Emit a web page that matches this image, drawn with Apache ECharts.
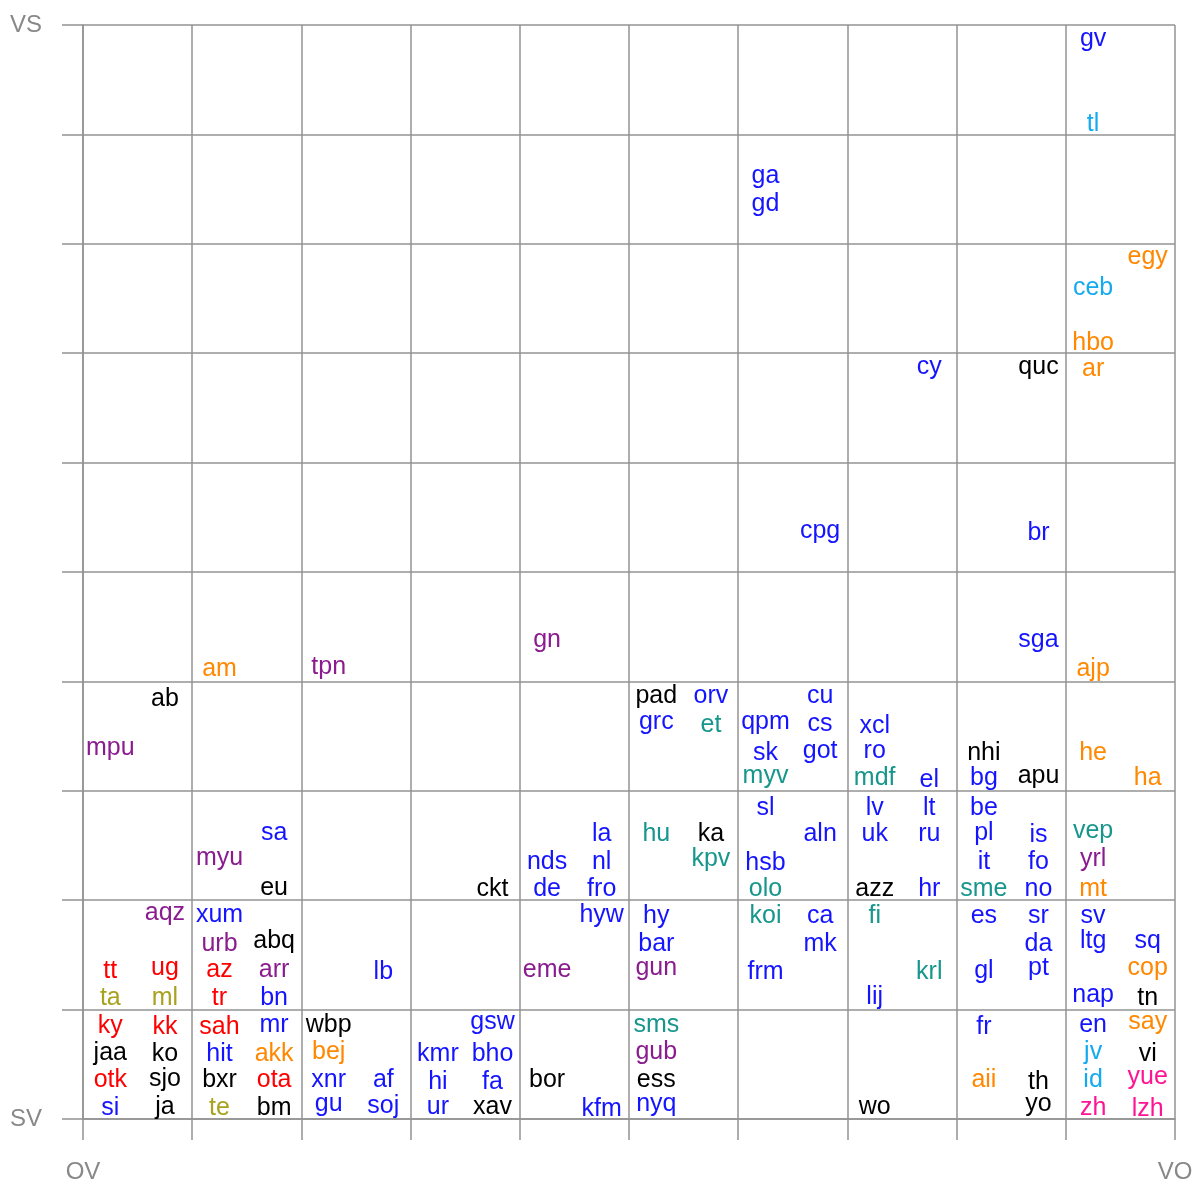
<!DOCTYPE html>
<html>
<head>
<meta charset="utf-8">
<script src="https://cdn.jsdelivr.net/npm/echarts@6/dist/echarts.min.js"></script>
<style>
  html, body { margin: 0; padding: 0; background: #fff; }
  #main { width: 1196px; height: 1184px; }
</style>
</head>
<body>
<div id="main"></div>
<script>
// [label, x (OV -> VO), y (SV -> VS)]
const blueLangs = [
  ['gv', 9.25, 9.89], ['ga', 6.25, 8.64], ['gd', 6.25, 8.38], ['cy', 7.75, 6.89],
  ['cpg', 6.75, 5.39], ['br', 8.75, 5.37], ['sga', 8.75, 4.40],
  ['grc', 5.25, 3.65], ['orv', 5.75, 3.88], ['qpm', 6.25, 3.65], ['sk', 6.25, 3.36],
  ['cu', 6.75, 3.88], ['cs', 6.75, 3.63], ['got', 6.75, 3.38], ['xcl', 7.25, 3.61],
  ['ro', 7.25, 3.38], ['el', 7.75, 3.12], ['bg', 8.25, 3.13],
  ['sa', 1.75, 2.63], ['la', 4.75, 2.62], ['nds', 4.25, 2.37], ['nl', 4.75, 2.37],
  ['de', 4.25, 2.12], ['fro', 4.75, 2.12], ['sl', 6.25, 2.86], ['aln', 6.75, 2.62],
  ['hsb', 6.25, 2.36], ['lv', 7.25, 2.86], ['lt', 7.75, 2.86], ['uk', 7.25, 2.62],
  ['ru', 7.75, 2.62], ['hr', 7.75, 2.12], ['be', 8.25, 2.86], ['pl', 8.25, 2.63],
  ['is', 8.75, 2.61], ['it', 8.25, 2.37], ['fo', 8.75, 2.37], ['no', 8.75, 2.12],
  ['xum', 1.25, 1.88], ['lb', 2.75, 1.36], ['bn', 1.75, 1.12], ['hyw', 4.75, 1.88],
  ['hy', 5.25, 1.87], ['bar', 5.25, 1.62], ['ca', 6.75, 1.87], ['mk', 6.75, 1.62],
  ['frm', 6.25, 1.36], ['lij', 7.25, 1.13], ['es', 8.25, 1.87], ['sr', 8.75, 1.87],
  ['da', 8.75, 1.62], ['gl', 8.25, 1.37], ['pt', 8.75, 1.40], ['sv', 9.25, 1.87],
  ['ltg', 9.25, 1.64], ['sq', 9.75, 1.64], ['nap', 9.25, 1.15],
  ['si', 0.25, 0.12], ['hit', 1.25, 0.61], ['mr', 1.75, 0.88], ['xnr', 2.25, 0.37],
  ['gu', 2.25, 0.15], ['af', 2.75, 0.37], ['soj', 2.75, 0.14], ['gsw', 3.75, 0.90],
  ['kmr', 3.25, 0.61], ['bho', 3.75, 0.61], ['hi', 3.25, 0.36], ['fa', 3.75, 0.36],
  ['ur', 3.25, 0.13], ['kfm', 4.75, 0.11], ['nyq', 5.25, 0.15], ['fr', 8.25, 0.86],
  ['en', 9.25, 0.88]
];
const blackLangs = [
  ['quc', 8.75, 6.89], ['ab', 0.75, 3.86], ['pad', 5.25, 3.88], ['nhi', 8.25, 3.36],
  ['apu', 8.75, 3.15], ['eu', 1.75, 2.13], ['ckt', 3.75, 2.12], ['ka', 5.75, 2.62],
  ['azz', 7.25, 2.12], ['abq', 1.75, 1.64], ['tn', 9.75, 1.12],
  ['jaa', 0.25, 0.62], ['ko', 0.75, 0.61], ['sjo', 0.75, 0.38], ['ja', 0.75, 0.13],
  ['bxr', 1.25, 0.37], ['bm', 1.75, 0.12], ['wbp', 2.25, 0.88], ['xav', 3.75, 0.13],
  ['bor', 4.25, 0.37], ['ess', 5.25, 0.37], ['wo', 7.25, 0.13], ['th', 8.75, 0.36],
  ['yo', 8.75, 0.15], ['vi', 9.75, 0.61]
];
const redLangs = [
  ['tt', 0.25, 1.37], ['ug', 0.75, 1.40], ['az', 1.25, 1.38], ['tr', 1.25, 1.12],
  ['ky', 0.25, 0.87], ['otk', 0.25, 0.37], ['kk', 0.75, 0.86], ['sah', 1.25, 0.86],
  ['ota', 1.75, 0.37]
];
const orangeLangs = [
  ['egy', 9.75, 7.90], ['hbo', 9.25, 7.11], ['ar', 9.25, 6.87], ['am', 1.25, 4.13],
  ['ajp', 9.25, 4.13], ['he', 9.25, 3.36], ['ha', 9.75, 3.13], ['mt', 9.25, 2.12],
  ['cop', 9.75, 1.40], ['akk', 1.75, 0.61], ['bej', 2.25, 0.63], ['aii', 8.25, 0.37],
  ['say', 9.75, 0.90]
];
const purpleLangs = [
  ['gn', 4.25, 4.40], ['tpn', 2.25, 4.15], ['mpu', 0.25, 3.41], ['myu', 1.25, 2.40],
  ['yrl', 9.25, 2.39], ['aqz', 0.75, 1.90], ['urb', 1.25, 1.62], ['arr', 1.75, 1.38],
  ['gun', 5.25, 1.40], ['eme', 4.25, 1.38], ['gub', 5.25, 0.63]
];
const tealLangs = [
  ['et', 5.75, 3.62], ['myv', 6.25, 3.15], ['mdf', 7.25, 3.13], ['hu', 5.25, 2.62],
  ['kpv', 5.75, 2.39], ['olo', 6.25, 2.12], ['sme', 8.25, 2.12], ['vep', 9.25, 2.65],
  ['koi', 6.25, 1.87], ['fi', 7.25, 1.87], ['krl', 7.75, 1.36], ['sms', 5.25, 0.88]
];
const oliveLangs = [['ta', 0.25, 1.12], ['ml', 0.75, 1.12], ['te', 1.25, 0.12]];
const skyLangs = [['tl', 9.25, 9.11], ['ceb', 9.25, 7.61], ['jv', 9.25, 0.63], ['id', 9.25, 0.37]];
const pinkLangs = [['zh', 9.25, 0.12], ['yue', 9.75, 0.40], ['lzh', 9.75, 0.11]];

const xEnds = ['OV', 'VO'];
const yEnds = ['SV', 'VS'];

var chartDom = document.getElementById('main');
var myChart = echarts.init(chartDom);

const gridLine = { color: '#939393', width: 1.5 };
const endLabel = { color: '#888', fontSize: 24, fontFamily: 'Liberation Sans, Arial, sans-serif', margin: 41 };

function textSeries(list, color) {
  return {
    type: 'scatter',
    symbolSize: 1,
    silent: true,
    itemStyle: { color: 'rgba(0,0,0,0)', opacity: 1 },
    label: {
      show: true,
      position: 'inside',
      offset: [0, 2],
      formatter: '{b}',
      color: color,
      opacity: 1,
      fontSize: 25,
      fontFamily: 'Liberation Sans, Arial, sans-serif'
    },
    data: list.map(function (d) { return { name: d[0], value: [d[1], d[2]] }; })
  };
}

myChart.setOption({
  animation: false,
  grid: { left: 83, right: 21, top: 25, bottom: 65 },
  xAxis: {
    type: 'value', min: 0, max: 10, interval: 1,
    axisLine: { show: true, lineStyle: gridLine },
    axisTick: { show: true, length: 21, lineStyle: gridLine },
    splitLine: { show: true, lineStyle: gridLine },
    axisLabel: Object.assign({
      formatter: function (v) { return v === 0 ? xEnds[0] : (v === 10 ? xEnds[1] : ''); }
    }, endLabel)
  },
  yAxis: {
    type: 'value', min: 0, max: 10, interval: 1,
    axisLine: { show: true, lineStyle: gridLine },
    axisTick: { show: true, length: 21, lineStyle: gridLine },
    splitLine: { show: true, lineStyle: gridLine },
    axisLabel: Object.assign({
      formatter: function (v) { return v === 0 ? yEnds[0] : (v === 10 ? yEnds[1] : ''); }
    }, endLabel)
  },
  series: [
    textSeries(blueLangs, '#1414ff'),
    textSeries(blackLangs, '#000000'),
    textSeries(redLangs, '#ff0000'),
    textSeries(orangeLangs, '#ff8800'),
    textSeries(purpleLangs, '#8a1c8f'),
    textSeries(tealLangs, '#17968c'),
    textSeries(oliveLangs, '#a8a21e'),
    textSeries(skyLangs, '#14aaf0'),
    textSeries(pinkLangs, '#ff1493')
  ]
});
</script>
</body>
</html>
